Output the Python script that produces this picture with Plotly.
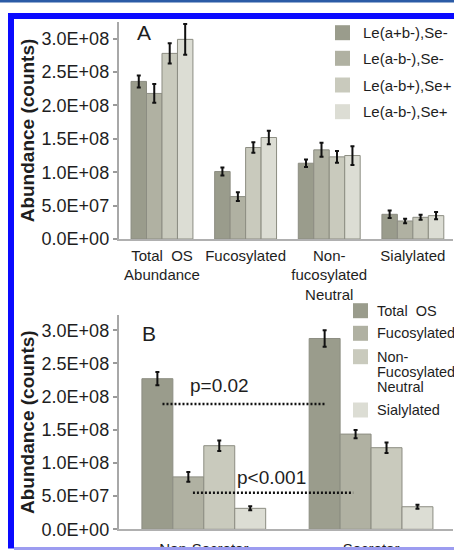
import plotly.graph_objects as go

# ---------------- data ----------------
cats_a = ["Total  OS<br>Abundance", "Fucosylated", "Non-<br>fucosylated<br>Neutral", "Sialylated"]
series_a = ["Le(a+b-),Se-", "Le(a-b-),Se-", "Le(a-b+),Se+", "Le(a-b-),Se+"]
vals_a1 = [2.36e8, 1.01e8, 1.135e8, 0.37e8]
vals_a2 = [2.18e8, 0.635e8, 1.335e8, 0.27e8]
vals_a3 = [2.78e8, 1.37e8, 1.23e8, 0.325e8]
vals_a4 = [2.99e8, 1.52e8, 1.25e8, 0.35e8]
err_a1 = [0.09e8, 0.06e8, 0.057e8, 0.055e8]
err_a2 = [0.14e8, 0.065e8, 0.105e8, 0.033e8]
err_a3 = [0.15e8, 0.08e8, 0.088e8, 0.037e8]
err_a4 = [0.23e8, 0.10e8, 0.14e8, 0.055e8]

cats_b = ["Non-Secretor", "Secretor"]
series_b = ["Total  OS", "Fucosylated", "Non-<br>Fucosylated<br>Neutral", "Sialylated"]
vals_b1 = [2.27e8, 2.876e8]
vals_b2 = [0.79e8, 1.435e8]
vals_b3 = [1.26e8, 1.23e8]
vals_b4 = [0.316e8, 0.34e8]
err_b1 = [0.10e8, 0.125e8]
err_b2 = [0.075e8, 0.063e8]
err_b3 = [0.078e8, 0.08e8]
err_b4 = [0.03e8, 0.03e8]

tick_vals = [0, 0.5e8, 1.0e8, 1.5e8, 2.0e8, 2.5e8, 3.0e8]
tick_text = ["0.0E+00", "5.0E+07", "1.0E+08", "1.5E+08", "2.0E+08", "2.5E+08", "3.0E+08"]

colors = ["#9a9c8c", "#b0b1a2", "#c9cabd", "#dcddd4"]
edge = "#8c8d82"
FONT = "Arial, Liberation Sans, sans-serif"
TXT = "#1e1e1e"

fig = go.Figure()

vals_a = [vals_a1, vals_a2, vals_a3, vals_a4]
errs_a = [err_a1, err_a2, err_a3, err_a4]
for i in range(4):
    fig.add_trace(go.Bar(
        x=cats_a, y=vals_a[i], name=series_a[i],
        marker=dict(color=colors[i], line=dict(color=edge, width=1)),
        error_y=dict(type="data", array=errs_a[i], color="#111111", thickness=2, width=2),
        xaxis="x", yaxis="y", showlegend=False,
    ))

vals_b = [vals_b1, vals_b2, vals_b3, vals_b4]
errs_b = [err_b1, err_b2, err_b3, err_b4]
for i in range(4):
    fig.add_trace(go.Bar(
        x=cats_b, y=vals_b[i], name=series_b[i],
        marker=dict(color=colors[i], line=dict(color=edge, width=1)),
        error_y=dict(type="data", array=errs_b[i], color="#111111", thickness=2, width=2),
        xaxis="x2", yaxis="y2", showlegend=False,
    ))

W, H = 454, 550
xdom = [118.5 / W, 453 / W]
ydomA = [1 - 239 / H, 1 - 22 / H]
ydomB = [1 - 529.3 / H, 1 - 315 / H]

yax_common = dict(
    tickvals=tick_vals, ticktext=tick_text,
    tickfont=dict(family=FONT, size=18, color=TXT),
    ticks="outside", ticklen=4, tickcolor="#9a9a9a", tickwidth=1.5,
    showline=True, linecolor="#a8a8a8", linewidth=1.5,
    showgrid=False, zeroline=False, automargin=False,
    title=dict(text="<b>Abundance (counts)</b>", font=dict(family=FONT, size=19, color=TXT), standoff=2),
)
xax_common = dict(
    tickfont=dict(family=FONT, size=15, color=TXT), tickangle=0,
    ticks="", showline=True, linecolor="#b0b0b0", linewidth=1.5,
    showgrid=False, zeroline=False, automargin=False, type="category",
)

fig.update_layout(
    width=W, height=H, autosize=False,
    margin=dict(l=0, r=0, t=0, b=0),
    paper_bgcolor="white", plot_bgcolor="white",
    barmode="group", bargap=0.26, bargroupgap=0,
    font=dict(family=FONT, color=TXT),
    xaxis=dict(domain=xdom, anchor="y", range=[-0.52, 3.48], ticklabelstandoff=2, **xax_common),
    yaxis=dict(domain=ydomA, anchor="x", range=[0, 3.25e8], **yax_common),
    xaxis2=dict(domain=xdom, anchor="y2", range=[-0.51, 1.49], ticklabelstandoff=5, **xax_common),
    yaxis2=dict(domain=ydomB, anchor="x2", range=[0, 3.23e8], **yax_common),
    showlegend=False,
)

# legend for panel A (drawn manually so it does not push the margins)
leg_a_rows = [32.7, 58.3, 85.0, 111.7]
for i in range(4):
    yc = leg_a_rows[i]
    fig.add_shape(type="rect", xref="paper", yref="paper",
                  x0=335 / W, x1=350 / W, y0=1 - (yc + 7.5) / H, y1=1 - (yc - 7.5) / H,
                  fillcolor=colors[i], line=dict(width=0))
    fig.add_annotation(text=series_a[i], x=361 / W, y=1 - yc / H, xref="paper", yref="paper",
                       xanchor="left", yanchor="middle", showarrow=False,
                       font=dict(family=FONT, size=15, color=TXT))

# legend for panel B
leg_b_rows = [310.7, 333.3, 356.7, 410.0]
leg_b_lines = [[("Total  OS", 310.7)], [("Fucosylated", 333.3)],
               [("Non-", 356.7), ("Fucosylated", 371.7), ("Neutral", 386.7)],
               [("Sialylated", 410.0)]]
for i in range(4):
    yc = leg_b_rows[i]
    fig.add_shape(type="rect", xref="paper", yref="paper",
                  x0=353 / W, x1=368 / W, y0=1 - (yc + 7.5) / H, y1=1 - (yc - 7.5) / H,
                  fillcolor=colors[i], line=dict(width=0))
    for txt, yy in leg_b_lines[i]:
        fig.add_annotation(text=txt, x=375 / W, y=1 - yy / H, xref="paper", yref="paper",
                           xanchor="left", yanchor="middle", showarrow=False,
                           font=dict(family=FONT, size=14.5, color=TXT))

# panel letters
fig.add_annotation(text="A", x=143.5 / W, y=1 - 32.5 / H, xref="paper", yref="paper",
                   xanchor="center", yanchor="middle",
                   showarrow=False, font=dict(family=FONT, size=21, color=TXT))
fig.add_annotation(text="B", x=148.5 / W, y=1 - 333 / H, xref="paper", yref="paper",
                   xanchor="center", yanchor="middle",
                   showarrow=False, font=dict(family=FONT, size=21, color=TXT))

# significance lines and labels (panel B)
fig.add_shape(type="line", xref="x2", yref="y2", x0=-0.247, x1=0.723, y0=1.887e8, y1=1.887e8,
              line=dict(color="#111111", width=2.5, dash="2px,2px"))
fig.add_shape(type="line", xref="x2", yref="y2", x0=-0.065, x1=0.893, y0=0.55e8, y1=0.55e8,
              line=dict(color="#111111", width=2.5, dash="2px,2px"))
fig.add_annotation(text="p=0.02", x=0.095, y=2.17e8, xref="x2", yref="y2", showarrow=False,
                   xanchor="center", yanchor="middle",
                   font=dict(family=FONT, size=19, color=TXT))
fig.add_annotation(text="p<0.001", x=0.404, y=0.78e8, xref="x2", yref="y2", showarrow=False,
                   xanchor="center", yanchor="middle",
                   font=dict(family=FONT, size=19, color=TXT))

# frame
fig.add_shape(type="rect", xref="paper", yref="paper", x0=0, x1=1, y0=1 - 2.5 / H, y1=1,
              fillcolor="#2b5ba6", line=dict(width=0), layer="above")
fig.add_shape(type="rect", xref="paper", yref="paper", x0=8 / W, x1=1, y0=1 - 19 / H, y1=1 - 13 / H,
              fillcolor="#0a0aff", line=dict(width=0), layer="above")
fig.add_shape(type="rect", xref="paper", yref="paper", x0=8 / W, x1=14 / W, y0=1 - 548.5 / H, y1=1 - 13 / H,
              fillcolor="#0a0aff", line=dict(width=0), layer="above")
fig.add_shape(type="rect", xref="paper", yref="paper", x0=14 / W, x1=1, y0=0, y1=1 - 547 / H,
              fillcolor="#9c9cf0", line=dict(width=0), layer="above")

fig.write_html(
    "out.html",
    config={"displayModeBar": False, "responsive": False},
    post_script="document.documentElement.style.overflow='hidden';document.body.style.margin='0';",
)
